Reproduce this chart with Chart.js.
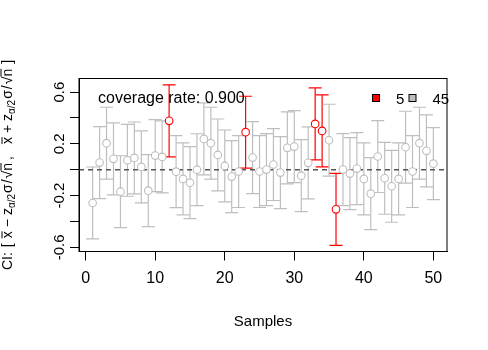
<!DOCTYPE html>
<html>
<head>
<meta charset="utf-8">
<script src="https://cdn.jsdelivr.net/npm/chart.js@4.4.1/dist/chart.umd.min.js"></script>
<style>
  html, body { margin: 0; padding: 0; background: #fff; }
  #wrap { width: 488px; height: 350px; }
</style>
</head>
<body>
<div id="wrap"><canvas id="ciChart" width="488" height="350"></canvas></div>
<script>
// sample number (x) and sample mean (point estimate)
const samples = [1, 2, 3, 4, 5, 6, 7, 8, 9, 10, 11, 12, 13, 14, 15, 16, 17, 18, 19, 20,
  21, 22, 23, 24, 25, 26, 27, 28, 29, 30, 31, 32, 33, 34, 35, 36, 37, 38, 39, 40,
  41, 42, 43, 44, 45, 46, 47, 48, 49, 50];
const means = [-0.257, 0.055, 0.205, 0.084, -0.170, 0.073, 0.091, 0.022, -0.162, 0.109,
  0.099, 0.378, -0.015, -0.071, -0.100, 0.000, 0.238, 0.205, 0.114, 0.029,
  -0.053, -0.014, 0.290, 0.094, -0.014, 0.001, 0.040, -0.022, 0.169, 0.179,
  -0.046, 0.053, 0.354, 0.300, 0.228, -0.306, 0.001, -0.030, 0.009, -0.071,
  -0.185, 0.102, -0.066, -0.128, -0.071, 0.174, -0.014, 0.205, 0.146, 0.047];
// half width z_{a/2} * sigma / sqrt(n), same for every sample
const halfWidth = 0.278;
// samples whose interval misses mu
const missed = [12, 23, 33, 34, 36];
const mu = 0;

const xTicks = [0, 10, 20, 30, 40, 50];
const yTicks = [-0.6, -0.4, -0.2, 0, 0.2, 0.4, 0.6];
const yTickLabels = ["-0.6", "", "-0.2", "", "0.2", "", "0.6"];
const legendLabels = ["5", "45"];
const coverageLabel = "coverage rate: 0.900";
const xTitle = "Samples";

const xMin = -0.96, xMax = 51.96;
const yMin = -0.632, yMax = 0.705;

const RED = "#FF0000";
const GRAY = "#BEBEBE";
const FONT = "'Liberation Sans', Arial, Helvetica, sans-serif";

function colorFor(i) {
  return missed.includes(samples[i]) ? RED : GRAY;
}

// interval segments: lower, upper, gap
const intervalPts = [];
samples.forEach((s, i) => {
  intervalPts.push({ x: s, y: means[i] - halfWidth });
  intervalPts.push({ x: s, y: means[i] + halfWidth });
  intervalPts.push({ x: s, y: null });
});
const meanPts = samples.map((s, i) => ({ x: s, y: means[i] }));

// y axis label pieces: [text, isSub, overline, gapAfter]
const yLabelParts = [
  ["CI:", 0, 0, 5], ["[", 0, 0, 5], ["x", 0, 1, 4], ["\u2212", 0, 0, 4],
  ["z", 0, 0, 0], ["\u03b1/2", 1, 0, 1], ["\u03c3", 0, 0, 1], ["/", 0, 0, 1],
  ["\u221a", 0, 0, 0], ["n", 0, 1, 3], [",", 0, 0, 12],
  ["x", 0, 1, 4], ["+", 0, 0, 4],
  ["z", 0, 0, 0], ["\u03b1/2", 1, 0, 1], ["\u03c3", 0, 0, 1], ["/", 0, 0, 1],
  ["\u221a", 0, 0, 0], ["n", 0, 1, 5], ["]", 0, 0, 0]
];

function drawYLabel(ctx, cx, cy) {
  const mainF = "14px " + FONT, subF = "10px " + FONT;
  let total = 0;
  yLabelParts.forEach((p) => {
    ctx.font = p[1] ? subF : mainF;
    total += ctx.measureText(p[0]).width + p[3];
  });
  ctx.save();
  ctx.translate(cx, cy);
  ctx.rotate(-Math.PI / 2);
  ctx.fillStyle = "#000";
  ctx.strokeStyle = "#000";
  ctx.lineWidth = 1;
  ctx.textBaseline = "alphabetic";
  ctx.textAlign = "left";
  let x = -total / 2;
  yLabelParts.forEach((p) => {
    ctx.font = p[1] ? subF : mainF;
    const w = ctx.measureText(p[0]).width;
    ctx.fillText(p[0], x, p[1] ? 3 : 0);
    if (p[2]) {
      const top = p[0] === "n" ? -11 : -10;
      ctx.beginPath();
      ctx.moveTo(x, top);
      ctx.lineTo(x + w, top);
      ctx.stroke();
    }
    x += w + p[3];
  });
  ctx.restore();
}

const extras = {
  id: "extras",
  afterDraw(chart) {
    const { ctx, chartArea: a, scales } = chart;
    ctx.save();
    // plot box
    ctx.strokeStyle = "#000";
    ctx.lineWidth = 1;
    ctx.strokeRect(a.left, a.top, a.right - a.left, a.bottom - a.top);

    // rotated y tick labels
    ctx.fillStyle = "#000";
    ctx.font = "15px " + FONT;
    ctx.textAlign = "center";
    ctx.textBaseline = "alphabetic";
    yTicks.forEach((v, i) => {
      if (!yTickLabels[i]) return;
      const py = scales.y.getPixelForValue(v);
      ctx.save();
      ctx.translate(64, py);
      ctx.rotate(-Math.PI / 2);
      ctx.fillText(yTickLabels[i], 0, 0);
      ctx.restore();
    });

    // axis titles
    ctx.font = "15px " + FONT;
    ctx.fillText(xTitle, (a.left + a.right) / 2, 326);
    drawYLabel(ctx, 12, (a.top + a.bottom) / 2);

    // coverage text
    ctx.textAlign = "left";
    ctx.font = "16px " + FONT;
    ctx.fillText(coverageLabel, 98, 103);

    // legend
    ctx.font = "15px " + FONT;
    const sq = [[372.5, RED], [409, GRAY]];
    sq.forEach(([x, c], i) => {
      ctx.fillStyle = c;
      ctx.fillRect(x, 94.5, 7, 7);
      ctx.strokeStyle = "#000";
      ctx.strokeRect(x, 94.5, 7, 7);
      ctx.fillStyle = "#000";
      ctx.fillText(legendLabels[i], x + 23.5, 103.5);
    });
    ctx.restore();
  }
};

new Chart(document.getElementById("ciChart").getContext("2d"), {
  type: "line",
  data: {
    datasets: [
      {
        // sample means (drawn on top)
        data: meanPts,
        showLine: false,
        pointStyle: "circle",
        pointRadius: 3.8,
        pointBorderWidth: 1.1,
        pointBorderColor: (c) => colorFor(c.dataIndex),
        pointBackgroundColor: "#fff"
      },
      {
        // reference line at mu
        data: [{ x: xMin, y: mu }, { x: xMax, y: mu }],
        borderColor: "#555",
        borderWidth: 1.4,
        borderDash: [5, 4],
        pointRadius: 0
      },
      {
        // confidence intervals with caps
        data: intervalPts,
        spanGaps: false,
        borderWidth: 1.2,
        segment: { borderColor: (c) => colorFor(Math.floor(c.p0DataIndex / 3)) },
        pointStyle: "line",
        pointRadius: 6.5,
        pointBorderWidth: 1.2,
        pointBorderColor: (c) => colorFor(Math.floor(c.dataIndex / 3))
      }
    ]
  },
  options: {
    responsive: false,
    animation: false,
    events: [],
    layout: { padding: { left: 0, top: 78.5, right: 41, bottom: 0 } },
    plugins: { legend: { display: false }, tooltip: { enabled: false } },
    scales: {
      x: {
        type: "linear",
        min: xMin,
        max: xMax,
        afterBuildTicks: (sc) => { sc.ticks = xTicks.map((v) => ({ value: v })); },
        afterFit: (sc) => { sc.height = 98.5; },
        grid: { drawOnChartArea: false, drawTicks: true, tickLength: 9, color: "#000" },
        border: { display: true, color: "#000" },
        ticks: { color: "#000", font: { family: FONT, size: 16 }, padding: 8, maxRotation: 0 }
      },
      y: {
        type: "linear",
        min: yMin,
        max: yMax,
        afterBuildTicks: (sc) => { sc.ticks = yTicks.map((v) => ({ value: v })); },
        afterFit: (sc) => { sc.width = 79; },
        grid: { drawOnChartArea: false, drawTicks: true, tickLength: 9, color: "#000" },
        border: { display: true, color: "#000" },
        ticks: { callback: () => "" }
      }
    }
  },
  plugins: [extras]
});
</script>
</body>
</html>
